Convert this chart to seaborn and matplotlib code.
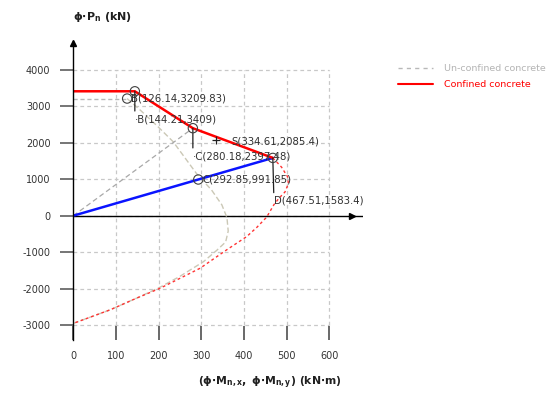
import matplotlib
matplotlib.use('Agg')
import matplotlib.pyplot as plt
from matplotlib.lines import Line2D
import numpy as np
import pandas as pd
import seaborn as sns

# Confined concrete, solid part (red)
confined_m = [0, 144.21, 280.18, 467.51]
confined_p = [3409, 3409, 2397.48, 1583.4]

# Confined concrete, rest of the curve (red dotted)
confined_tail_m = [467.51, 488, 502, 504, 496, 482, 470, 453, 430, 406, 360, 297, 203, 150, 86, 0]
confined_tail_p = [1583.4, 1330, 1070, 880, 650, 480, 300, -40, -320, -575, -930, -1440, -1990, -2250, -2580, -2950]

# Un-confined concrete
unconf_top_m = [0, 126.14]
unconf_top_p = [3209.83, 3209.83]
unconf_m = [126.14, 160, 200, 234, 289, 324, 348, 360, 363, 357, 336, 305, 250, 203, 150, 86, 0]
unconf_p = [3209.83, 2860, 2420, 2027, 1150, 704, 300, -50, -420, -720, -950, -1260, -1660, -1960, -2250, -2580, -2950]

# load lines from origin
load_m = [0, 467.51]
load_p = [0, 1583.4]
unconf_load_m = [0, 280.18]
unconf_load_p = [0, 2397.48]

# marked points
circle_m = [126.14, 144.21, 280.18, 467.51, 292.85]
circle_p = [3209.83, 3409, 2397.48, 1583.4, 991.85]
s_m = [334.61]
s_p = [2085.4]

x_ticks = [0, 100, 200, 300, 400, 500, 600]
y_ticks = [-3000, -2000, -1000, 0, 1000, 2000, 3000, 4000]

sns.set_theme(style='white')
plt.rcParams['mathtext.fontset'] = 'dejavusans'
plt.rcParams['mathtext.default'] = 'bf'
plt.rcParams['axes.unicode_minus'] = False

fig = plt.figure(figsize=(5.57, 3.96), dpi=100)
ax = fig.add_axes([0.1316, 0.1419, 0.521, 0.7558])
ax.set_xlim(0, 680)
ax.set_ylim(-3400, 4800)

# grid box
grid_kw = dict(color='#c8c8c8', lw=0.9, linestyles=(0, (3, 2.5)), zorder=0)
ax.hlines(y_ticks, 0, 600, **grid_kw)
ax.vlines(x_ticks[1:], -3000, 4000, **grid_kw)

# axis line at P = 0
ax.axhline(0, color='black', lw=1.0, zorder=1)
ax.plot([652], [0], marker='>', ms=4, color='black', clip_on=False, zorder=2)
ax.plot([0], [4720], marker='^', ms=4, color='black', clip_on=False, zorder=2)

# curves
sns.lineplot(x=unconf_top_m, y=unconf_top_p, sort=False, estimator=None, ax=ax,
             color='#b8b8b8', lw=1.0, linestyle=(0, (3, 2)))
sns.lineplot(x=unconf_m, y=unconf_p, sort=False, estimator=None, ax=ax,
             color='#cbc8b6', lw=1.0, linestyle=(0, (4, 2)))
sns.lineplot(x=unconf_load_m, y=unconf_load_p, sort=False, estimator=None, ax=ax,
             color='#a8a8a8', lw=0.9, linestyle=(0, (4, 2.5)))
sns.lineplot(x=confined_tail_m, y=confined_tail_p, sort=False, estimator=None, ax=ax,
             color='#ff3333', lw=1.0, linestyle=(0, (2, 2)))
sns.lineplot(x=load_m, y=load_p, sort=False, estimator=None, ax=ax,
             color='#0a14ff', lw=1.8)
sns.lineplot(x=confined_m, y=confined_p, sort=False, estimator=None, ax=ax,
             color='#ff0000', lw=1.8)

ax.scatter(circle_m, circle_p, s=45, facecolors='none', edgecolors='#404040',
           linewidths=0.8, zorder=5)
ax.scatter(s_m, s_p, s=40, marker='+', color='#202020', linewidths=0.9, zorder=5)

# point labels, offsets in pixels, some with a leader line
lab_kw = dict(fontsize=7.3, color='#303030', textcoords='offset pixels', va='center', ha='left')
ax.annotate('B(126.14,3209.83)', (circle_m[0], circle_p[0]), xytext=(4, 0), **lab_kw)
ax.annotate('C(292.85,991.85)', (circle_m[4], circle_p[4]), xytext=(4, 0), **lab_kw)
ax.annotate('S(334.61,2085.4)', (s_m[0], s_p[0]), xytext=(15, -2), **lab_kw)
lead = dict(arrowstyle='-', color='#202020', lw=0.9, shrinkA=0, shrinkB=0, relpos=(0, 1))
ax.annotate('·B(144.21,3409)', (circle_m[1], circle_p[1]), xytext=(0, -28),
            arrowprops=lead, **lab_kw)
ax.annotate('·C(280.18,2397.48)', (circle_m[2], circle_p[2]), xytext=(0, -28),
            arrowprops=lead, **lab_kw)
ax.annotate('D(467.51,1583.4)', (circle_m[3], circle_p[3]), xytext=(1, -43),
            arrowprops=lead, **lab_kw)

# spines and ticks
for side in ['top', 'right', 'bottom']:
    ax.spines[side].set_visible(False)
ax.spines['left'].set_color('black')
ax.spines['left'].set_linewidth(1.0)
ax.set_xticks(x_ticks)
ax.set_yticks(y_ticks)
ax.tick_params(axis='x', direction='in', length=10, width=1.1, color='#404040',
               pad=8, labelsize=7, labelcolor='#333333', bottom=True)
ax.tick_params(axis='y', direction='out', length=9.5, width=1.1, color='#505050',
               pad=7, labelsize=7, labelcolor='#333333', left=True)

fig.text(102 / 557, 1 - 17 / 396, r'$\phi{\cdot}P_n$ (kN)', ha='center', va='center',
         fontsize=8, fontweight='bold', color='#202020')
fig.text(270 / 557, 1 - 383 / 396, r'$(\phi{\cdot}M_{n,x},\ \phi{\cdot}M_{n,y})$ (kN$\cdot$m)',
         ha='center', va='center', fontsize=7.8, fontweight='bold', color='#202020')

handles = [Line2D([], [], color='#b8b8b8', lw=1.0, linestyle=(0, (3, 3))),
           Line2D([], [], color='#ff0000', lw=1.5)]
leg = fig.legend(handles, ['Un-confined concrete', 'Confined concrete'],
                 loc='upper left', bbox_to_anchor=(398 / 557, 1 - 64 / 396),
                 frameon=False, fontsize=6.8, handlelength=3.7, handletextpad=1.2,
                 labelspacing=0.75, borderpad=0, borderaxespad=0)
for txt, c in zip(leg.get_texts(), ['#b4b4b4', '#ff0000']):
    txt.set_color(c)

fig.savefig('out.png', dpi=100)
